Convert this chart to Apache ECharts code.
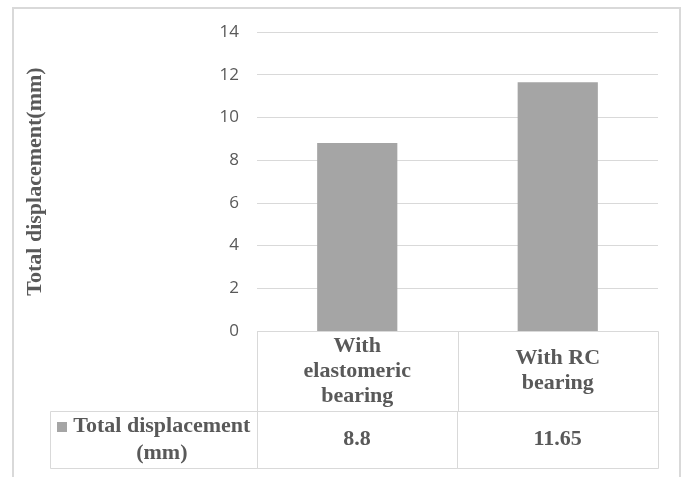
<!DOCTYPE html>
<html><head><meta charset="utf-8">
<script src="https://cdn.jsdelivr.net/npm/echarts@6/dist/echarts.min.js"></script>
<style>html,body{margin:0;padding:0;background:#fff}#c{width:683px;height:477px}</style>
</head><body><div id="c"></div>
<script>
// ---- data ----
const categories = ['With\nelastomeric\nbearing', 'With RC\nbearing'];
const seriesName = 'Total displacement\n(mm)';
const values = [8.8, 11.65];
const yMin = 0, yMax = 14, yStep = 2;
const yTitle = 'Total displacement(mm)';

// ---- styles ----
const border = '#d9d9d9', textColor = '#595959', barColor = '#a5a5a5';
const serif = '"Liberation Serif","Times New Roman",serif';
const boldSerif = 'bold 22px ' + serif;

function cellRect(c, s, extraLeft) {
  const x0 = Math.round(c[0] - s[0] / 2 - (extraLeft || 0)) + 0.5;
  const y0 = Math.round(c[1] - s[1] / 2) + 0.5;
  const x1 = Math.round(c[0] + s[0] / 2) + 0.5;
  const y1 = Math.round(c[1] + s[1] / 2) + 0.5;
  return { type: 'rect', shape: { x: x0, y: y0, width: x1 - x0, height: y1 - y0 },
           style: { fill: 'none', stroke: border, lineWidth: 1 } };
}

const chart = echarts.init(document.getElementById('c'), null, { renderer: 'canvas' });
chart.setOption({
  backgroundColor: '#fff',
  animation: false,
  graphic: [{
    type: 'rect', shape: { x: 13, y: 8, width: 667, height: 500 },
    style: { fill: 'none', stroke: border, lineWidth: 2 }, silent: true
  }],
  grid: [
    { left: 257, top: 32, width: 401, height: 299 },
    { left: 257, top: 331, width: 401, height: 80 },
    { left: 56, top: 411, width: 602, height: 57 }
  ],
  xAxis: [
    { gridIndex: 0, type: 'category', data: categories, axisLine: { show: false },
      axisTick: { show: false }, axisLabel: { show: false } },
    { gridIndex: 1, type: 'category', data: categories, show: false },
    { gridIndex: 2, type: 'category', data: [seriesName].concat(categories), show: false }
  ],
  yAxis: [
    { gridIndex: 0, type: 'value', min: yMin, max: yMax, interval: yStep,
      axisLine: { show: false }, axisTick: { show: false },
      splitLine: { lineStyle: { color: border, width: 1 } },
      axisLabel: { color: textColor, fontFamily: '"Open Sans", sans-serif', fontSize: 17, margin: 18 },
      name: yTitle, nameLocation: 'middle', nameRotate: 90, nameGap: 211,
      nameTextStyle: { color: textColor, fontFamily: serif, fontWeight: 'bold', fontSize: 22 } },
    { gridIndex: 1, type: 'value', min: 0, max: 1, show: false },
    { gridIndex: 2, type: 'value', min: 0, max: 1, show: false }
  ],
  series: [
    { name: seriesName, type: 'bar', xAxisIndex: 0, yAxisIndex: 0, data: values,
      barWidth: '40%', itemStyle: { color: barColor } },
    { type: 'custom', xAxisIndex: 1, yAxisIndex: 1, data: categories.map((c, i) => [i]),
      renderItem: function (params, api) {
        const i = api.value(0);
        const c = api.coord([i, 0.5]);
        const s = api.size([1, 1]);
        return { type: 'group', children: [
          cellRect(c, s),
          { type: 'text', x: c[0], y: c[1], style: { text: categories[i], fill: textColor,
            font: boldSerif, align: 'center', verticalAlign: 'middle', lineHeight: 25 } }
        ] };
      } },
    { type: 'custom', xAxisIndex: 2, yAxisIndex: 2, data: [0].concat(values.map((v, i) => i + 1)).map(i => [i]),
      renderItem: function (params, api) {
        const i = api.value(0);
        const c = api.coord([i, 0.5]);
        const s = api.size([1, 1]);
        if (i === 0) {
          const left = c[0] - s[0] / 2 - 6;
          const right = c[0] + s[0] / 2;
          const iconX = left + 7;
          const tx = (iconX + 10 + right) / 2;
          return { type: 'group', children: [
            cellRect(c, s, 6),
            { type: 'rect', shape: { x: Math.round(iconX), y: Math.round(c[1] - 13 - 5), width: 10, height: 10 },
              style: { fill: barColor } },
            { type: 'text', x: tx, y: c[1], style: { text: seriesName, fill: textColor,
              font: boldSerif, align: 'center', verticalAlign: 'middle', lineHeight: 27 } }
          ] };
        }
        return { type: 'group', children: [
          cellRect(c, s),
          { type: 'text', x: c[0], y: c[1], style: { text: String(values[i - 1]), fill: textColor,
            font: boldSerif, align: 'center', verticalAlign: 'middle' } }
        ] };
      } }
  ]
});
</script></body></html>
